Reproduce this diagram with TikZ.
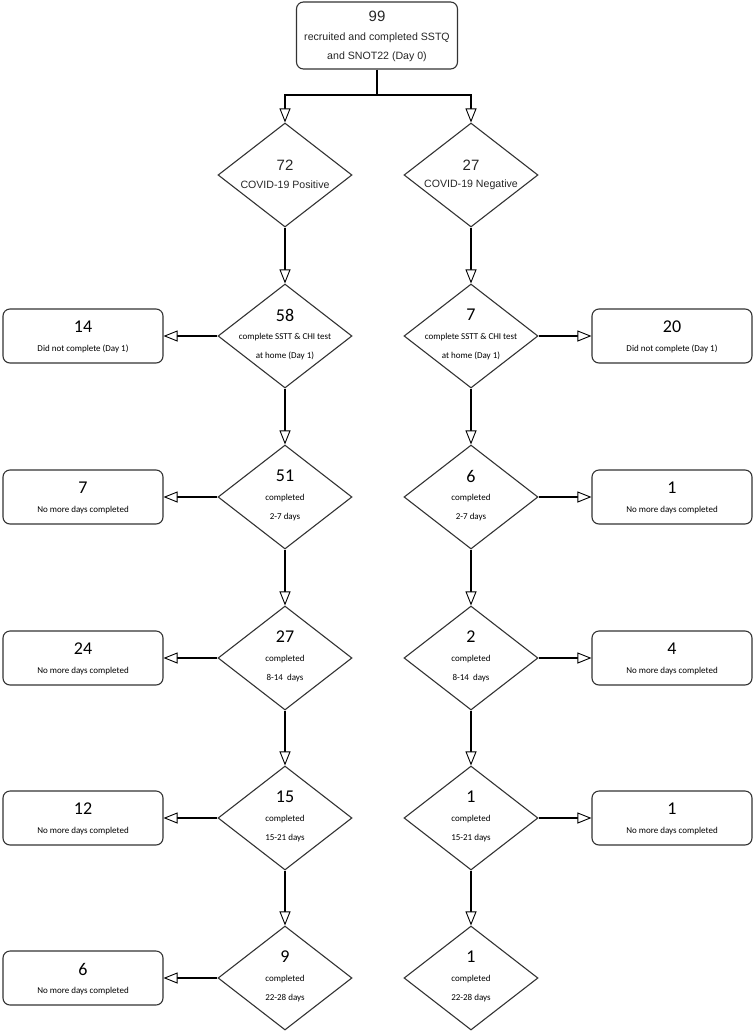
\documentclass[tikz,border=0pt]{standalone}
\usepackage{fontspec}
\setmainfont{Carlito}
\newfontfamily\arialf{Liberation Sans}
\usetikzlibrary{shapes.geometric,arrows.meta}
\begin{document}
\begin{tikzpicture}[x=1pt,y=-1pt,
  dia/.style={draw=black!80,line width=1.1pt,shape=diamond,minimum width=134pt,minimum height=104pt,inner sep=0pt},
  rbox/.style={draw=black!80,line width=1.1pt,rounded corners=7pt,minimum width=160pt,minimum height=54pt,inner sep=0pt},
  conn/.style={draw=black,line width=1.2pt,-{Triangle[length=14pt,width=11pt,fill=white,line width=0.9pt]}},
  plain/.style={draw=black,line width=1.2pt},
  num/.style={font=\fontsize{18}{18}\selectfont,inner sep=0pt},
  sm/.style={font=\fontsize{9}{9}\selectfont,inner sep=0pt},
  anum/.style={font=\arialf\fontsize{15}{15}\selectfont,inner sep=0pt,text=black!85},
  asm/.style={font=\arialf\fontsize{10.6}{10.6}\selectfont,inner sep=0pt,text=black!85}]
\useasboundingbox (0,0) rectangle (754,1034);
% top box
\node[rbox,minimum width=161pt,minimum height=67pt] (top) at (377,35.5) {};
\node[anum] (topn) at (377,16) {99};
\node[asm] (topa) at (377,38) {recruited and completed SSTQ};
\node[asm] (topb) at (377,57) {and SNOT22 (Day 0)};
% diamonds
\node[dia] (L1) at (285,175) {};
\node[dia] (R1) at (471,175) {};
\node[anum] (L1n) at (285,165) {72};
\node[asm] (L1t) at (285,185) {COVID-19 Positive};
\node[anum] (R1n) at (471,165) {27};
\node[asm] (R1t) at (471,185) {COVID-19 Negative};
% row 2
\node[dia] (L2) at (285,336) {};
\node[num] (L2n) at (285,315) {58};
\node[sm] (L2a) at (285,337) {complete SSTT \& CHI test};
\node[sm] (L2b) at (285,356) {at home (Day 1)};
\node[dia] (R2) at (471,336) {};
\node[num] (R2n) at (471,315) {7};
\node[sm] (R2a) at (471,337) {complete SSTT \& CHI test};
\node[sm] (R2b) at (471,356) {at home (Day 1)};
\node[rbox] (BL2) at (83,336) {};
\node[num] (BL2n) at (83,327) {14};
\node[sm] (BL2t) at (83,349) {Did not complete (Day 1)};
\node[rbox] (BR2) at (672,336) {};
\node[num] (BR2n) at (672,327) {20};
\node[sm] (BR2t) at (672,349) {Did not complete (Day 1)};
% rows 3-6
\foreach \r/\y/\ln/\rn/\days/\bl/\br in {3/497/51/6/2-7 days/7/1, 4/658/27/2/8-14\ \ days/24/4, 5/818/15/1/15-21 days/12/1}{
  \node[dia] (L\r) at (285,\y) {};
  \node[num] (L\r n) at (285,\y-21) {\ln};
  \node[sm] (L\r a) at (285,\y+1) {completed};
  \node[sm] (L\r b) at (285,\y+20) {\days};
  \node[dia] (R\r) at (471,\y) {};
  \node[num] (R\r n) at (471,\y-21) {\rn};
  \node[sm] (R\r a) at (471,\y+1) {completed};
  \node[sm] (R\r b) at (471,\y+20) {\days};
  \node[rbox] (BL\r) at (83,\y) {};
  \node[num] (BL\r n) at (83,\y-9) {\bl};
  \node[sm] (BL\r t) at (83,\y+13) {No more days completed};
  \node[rbox] (BR\r) at (672,\y) {};
  \node[num] (BR\r n) at (672,\y-9) {\br};
  \node[sm] (BR\r t) at (672,\y+13) {No more days completed};
}
\node[dia] (L6) at (285,978) {};
\node[num] (L6n) at (285,957) {9};
\node[sm] (L6a) at (285,979) {completed};
\node[sm] (L6b) at (285,998) {22-28 days};
\node[dia] (R6) at (471,978) {};
\node[num] (R6n) at (471,957) {1};
\node[sm] (R6a) at (471,979) {completed};
\node[sm] (R6b) at (471,998) {22-28 days};
\node[rbox] (BL6) at (83,978) {};
\node[num] (BL6n) at (83,969) {6};
\node[sm] (BL6t) at (83,991) {No more days completed};
% connectors
\coordinate (split) at (377,95);
\draw[plain] (top.south) -- (split);
\draw[conn] (split) -| (L1.north);
\draw[conn] (split) -| (R1.north);
\foreach \a/\b in {1/2,2/3,3/4,4/5,5/6}{
  \draw[conn] (L\a.south) -- (L\b.north);
  \draw[conn] (R\a.south) -- (R\b.north);
}
\foreach \r in {2,3,4,5,6}{
  \draw[conn] (L\r.west) -- (BL\r.east);
}
\foreach \r in {2,3,4,5}{
  \draw[conn] (R\r.east) -- (BR\r.west);
}
\end{tikzpicture}
\end{document}
